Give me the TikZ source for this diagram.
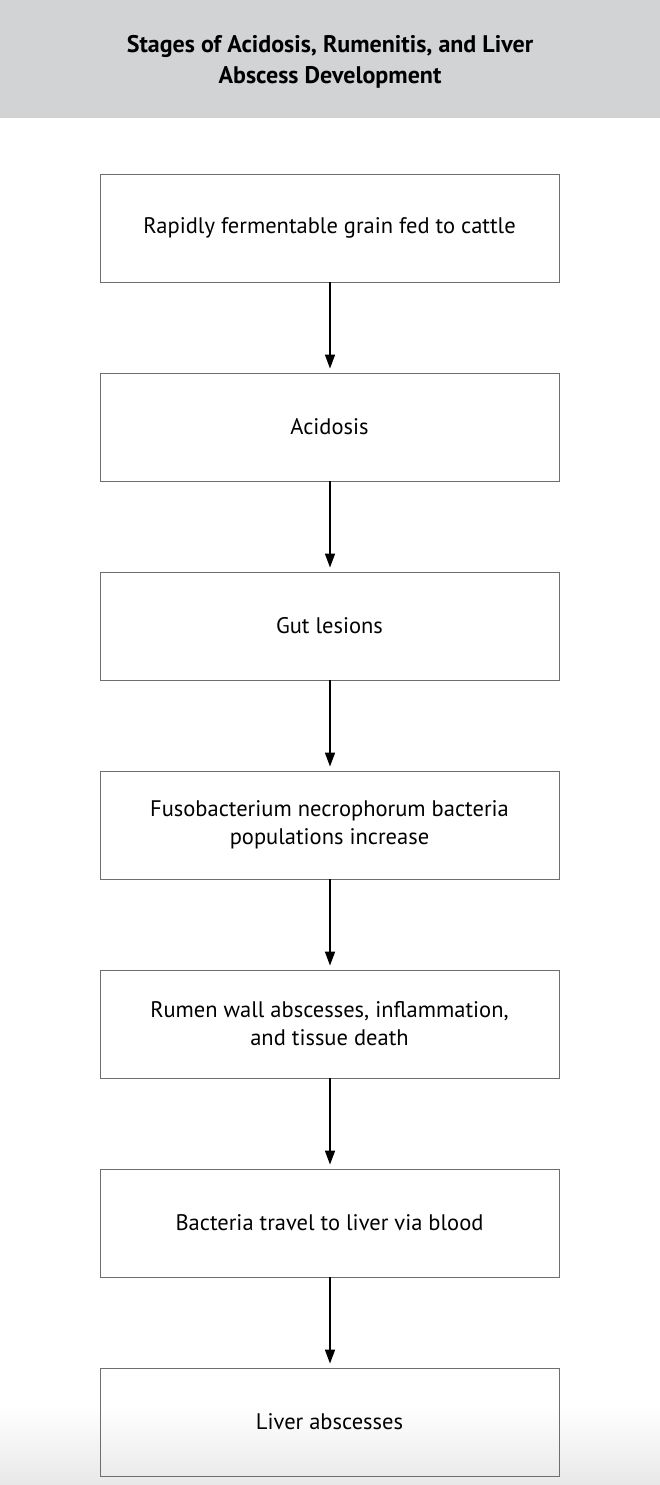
\documentclass[tikz,border=0pt]{standalone}
\usepackage{fontspec}
\setmainfont{PT Sans}
\usetikzlibrary{arrows.meta}
\definecolor{hdr}{HTML}{D1D3D4}
\definecolor{bdr}{HTML}{6D6E71}
\begin{document}
\begin{tikzpicture}[x=1pt,y=-1pt,
  stepbox/.style={draw=bdr,line width=0.9pt,minimum width=459pt,minimum height=108pt,
    align=center,font=\fontsize{22.5}{28}\selectfont,inner sep=0pt},
  conn/.style={line width=1.6pt,-{Triangle[length=14pt,width=10pt]}}]
\useasboundingbox (0,0) rectangle (660,1485);
\fill[white] (0,0) rectangle (660,1485);
\shade[top color=white,bottom color=black!9] (0,1405) rectangle (660,1485);
\fill[hdr] (0,0) rectangle (660,118);
\node[font=\bfseries\fontsize{24}{31}\selectfont,align=center] (title) at (330,62)
  {Stages of Acidosis, Rumenitis, and Liver\\Abscess Development};
\node[stepbox] (s1) at (329.5,228) {Rapidly fermentable grain fed to cattle};
\node[stepbox] (s2) at (329.5,427) {Acidosis};
\node[stepbox] (s3) at (329.5,626) {Gut lesions};
\node[stepbox] (s4) at (329.5,825) {Fusobacterium necrophorum bacteria\\populations increase};
\node[stepbox] (s5) at (329.5,1024) {Rumen wall abscesses, inflammation,\\and tissue death};
\node[stepbox] (s6) at (329.5,1223) {Bacteria travel to liver via blood};
\node[stepbox] (s7) at (329.5,1422) {Liver abscesses};
\foreach \a/\b in {s1/s2,s2/s3,s3/s4,s4/s5,s5/s6,s6/s7}
  \draw[conn] ([xshift=0.5pt]\a.south) -- ([xshift=0.5pt,yshift=4pt]\b.north);
\end{tikzpicture}
\end{document}
